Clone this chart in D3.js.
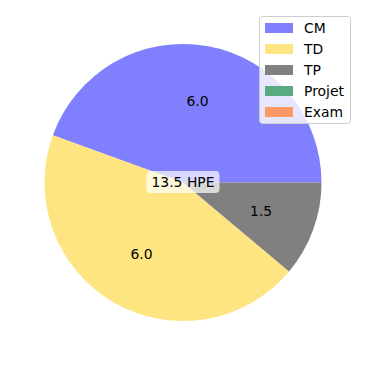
<!DOCTYPE html>
<html>
<head>
<meta charset="utf-8">
<script src="https://cdn.jsdelivr.net/npm/d3@7"></script>
<style>
  html, body { margin: 0; padding: 0; background: #fff; }
  svg { display: block; font-family: "DejaVu Sans", sans-serif; }
</style>
</head>
<body>
<svg id="chart" width="366" height="366"></svg>
<script>
const categories = ["CM", "TD", "TP", "Projet", "Exam"];
const values = [6.0, 6.0, 1.5, 0, 0];
const colors = ["#8080ff", "#ffe582", "#808080", "#5aaa7f", "#ff9966"];
const centerLabel = "13.5 HPE";

const svg = d3.select("#chart");
const cx = 183, cy = 182.5, R = 138.5;

const pie = d3.pie().sort(null).value(d => d.v)
  .startAngle(Math.PI / 2).endAngle(Math.PI / 2 - 2 * Math.PI);
const data = categories.map((c, i) => ({ c, v: values[i], col: colors[i] }));
const arcs = pie(data);
const arc = d3.arc().innerRadius(0).outerRadius(R);
const labelArc = d3.arc().innerRadius(R * 0.6).outerRadius(R * 0.6);

const g = svg.append("g").attr("transform", `translate(${cx},${cy})`);
g.selectAll("path.slice").data(arcs).join("path")
  .attr("class", "slice")
  .attr("d", arc)
  .attr("fill", d => d.data.col);

g.selectAll("text.val").data(arcs.filter(d => d.data.v > 0)).join("text")
  .attr("class", "val")
  .attr("transform", d => `translate(${labelArc.centroid(d)})`)
  .attr("text-anchor", "middle")
  .attr("dominant-baseline", "central")
  .attr("font-size", "13.9px")
  .attr("fill", "#000")
  .text(d => d.data.v.toFixed(1));

// center label with rounded box
const cl = g.append("g");
cl.append("rect")
  .attr("x", -36.5).attr("y", -11.5).attr("width", 73).attr("height", 22)
  .attr("rx", 4).attr("ry", 4)
  .attr("fill", "#ffffff").attr("fill-opacity", 0.7);
cl.append("text")
  .attr("text-anchor", "middle").attr("dominant-baseline", "central")
  .attr("y", -0.5)
  .attr("font-size", "13.9px").attr("fill", "#000")
  .text(centerLabel);

// legend
const lg = svg.append("g").attr("transform", "translate(259,16)");
lg.append("rect")
  .attr("x", 0.5).attr("y", 0.5).attr("width", 91).attr("height", 107)
  .attr("rx", 3).attr("ry", 3)
  .attr("fill", "#ffffff").attr("fill-opacity", 0.8)
  .attr("stroke", "#cccccc").attr("stroke-width", 1);
const rows = lg.selectAll("g.row").data(data).join("g")
  .attr("class", "row")
  .attr("transform", (d, i) => `translate(0,${12 + i * 21})`);
rows.append("rect")
  .attr("x", 6).attr("y", -5).attr("width", 28).attr("height", 10)
  .attr("fill", d => d.col);
rows.append("text")
  .attr("x", 45).attr("y", 0)
  .attr("dominant-baseline", "central")
  .attr("font-size", "13.9px").attr("fill", "#000")
  .text(d => d.c);
</script>
</body>
</html>
